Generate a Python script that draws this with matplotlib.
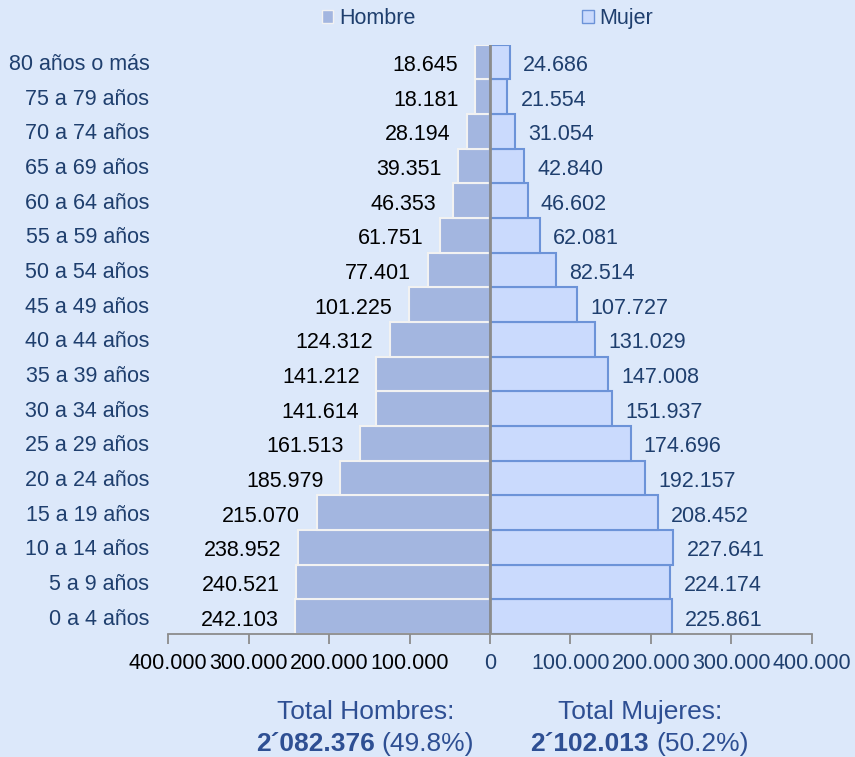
import matplotlib.pyplot as plt
from matplotlib.patches import Patch

plt.rcParams['font.family'] = ['Liberation Sans', 'DejaVu Sans']

# Datos (de 0 a 4 años hasta 80 o más)
edades = ["0 a 4 años", "5 a 9 años", "10 a 14 años", "15 a 19 años", "20 a 24 años",
          "25 a 29 años", "30 a 34 años", "35 a 39 años", "40 a 44 años", "45 a 49 años",
          "50 a 54 años", "55 a 59 años", "60 a 64 años", "65 a 69 años", "70 a 74 años",
          "75 a 79 años", "80 años o más"]
hombres = [242103, 240521, 238952, 215070, 185979, 161513, 141614, 141212, 124312,
           101225, 77401, 61751, 46353, 39351, 28194, 18181, 18645]
mujeres = [225861, 224174, 227641, 208452, 192157, 174696, 151937, 147008, 131029,
           107727, 82514, 62081, 46602, 42840, 31054, 21554, 24686]
ticks_x = [-400000, -300000, -200000, -100000, 0, 100000, 200000, 300000, 400000]
total_h = "2´082.376"
pct_h = "(49.8%)"
total_m = "2´102.013"
pct_m = "(50.2%)"

# Colores
fondo = "#dce8fa"
col_h = "#a3b6e0"
col_m = "#cadafd"
borde_m = "#6c93d8"
azul = "#1f3f6e"
azul_total = "#2e4f93"
fs = 15.5


def fmt(v):
    return f"{abs(v):,}".replace(",", ".")


fig = plt.figure(figsize=(8.55, 7.57), dpi=100, facecolor=fondo)
ax = fig.add_axes([0.1965, 0.1625, 0.7532, 0.7785], facecolor=fondo)

y = range(len(edades))
ax.barh(y, [-h for h in hombres], height=1.0, color=col_h, edgecolor="#f2f2f2", linewidth=1.5)
ax.barh(y, mujeres, height=1.0, color=col_m, edgecolor=borde_m, linewidth=1.5)

# Etiquetas de valores
for i, (h, m) in enumerate(zip(hombres, mujeres)):
    ax.annotate(fmt(h), (-h, i), xytext=(-12, -2.5), textcoords="offset points",
                ha="right", va="center", fontsize=fs, color="black")
    ax.annotate(fmt(m), (m, i), xytext=(9.5, -2.5), textcoords="offset points",
                ha="left", va="center", fontsize=fs, color=azul)

ax.axvline(0, color="#8c8c8c", linewidth=2)

ax.set_xlim(-400000, 400000)
ax.set_ylim(-0.5, len(edades) - 0.5)
ax.set_yticks(list(y))
ax.set_yticklabels(edades, fontsize=fs, color=azul)
ax.tick_params(axis="y", length=0, pad=13.5)
ax.set_xticks(ticks_x)
ax.set_xticklabels([fmt(t) for t in ticks_x], fontsize=fs)
for t, lab in zip(ticks_x, ax.get_xticklabels()):
    lab.set_color("black" if t < 0 else azul)
ax.tick_params(axis="x", length=7, width=1.3, color="#8c8c8c", pad=7, direction="out")

for s in ["top", "right", "left"]:
    ax.spines[s].set_visible(False)
ax.spines["bottom"].set_color("#8c8c8c")
ax.spines["bottom"].set_linewidth(1.3)

# Leyenda
handles = [Patch(facecolor=col_h, edgecolor="#f2f2f2", label="Hombre"),
           Patch(facecolor=col_m, edgecolor=borde_m, label="Mujer")]
fig.legend(handles=handles, loc="center", bbox_to_anchor=(0.570, 0.976), ncol=2,
           frameon=False, fontsize=fs, handlelength=0.55, handleheight=0.55,
           handletextpad=0.25, columnspacing=7.75, labelcolor=azul)

# Totales
fig.text(366 / 855, 1 - 712 / 757, "Total Hombres:", ha="center", va="center",
         fontsize=19, color=azul_total)
fig.text(640 / 855, 1 - 712 / 757, "Total Mujeres:", ha="center", va="center",
         fontsize=19, color=azul_total)
fig.text(375 / 855, 1 - 744 / 757, total_h, ha="right", va="center",
         fontsize=19, fontweight="bold", color=azul_total)
fig.text(381 / 855, 1 - 744 / 757, pct_h, ha="left", va="center",
         fontsize=19, color=azul_total)
fig.text(649 / 855, 1 - 744 / 757, total_m, ha="right", va="center",
         fontsize=19, fontweight="bold", color=azul_total)
fig.text(656 / 855, 1 - 744 / 757, pct_m, ha="left", va="center",
         fontsize=19, color=azul_total)

fig.savefig("out.png", dpi=100, facecolor=fondo)
